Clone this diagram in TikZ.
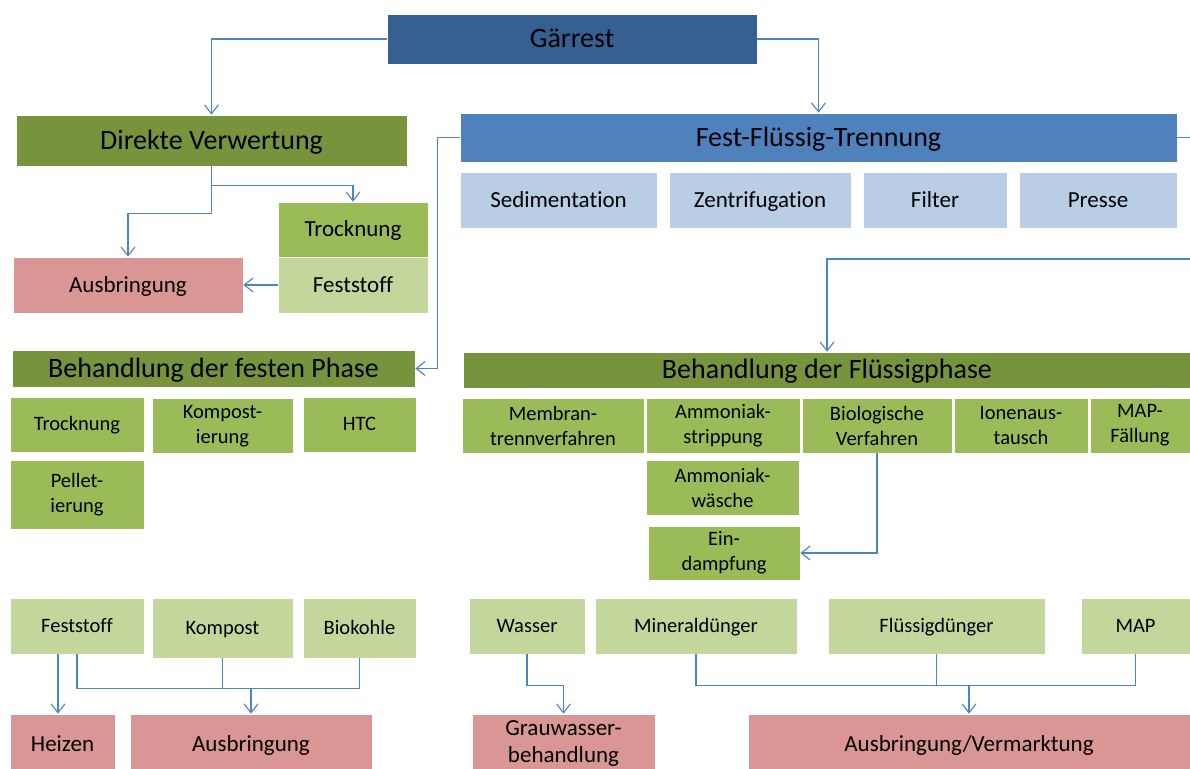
\documentclass[tikz,border=0pt]{standalone}
\usepackage{fontspec}
\setmainfont{Carlito}[Ligatures=NoCommon]
\usetikzlibrary{arrows.meta,calc}
\definecolor{dblue}{HTML}{376092}
\definecolor{mblue}{HTML}{4F81BD}
\definecolor{lblue}{HTML}{B9CDE5}
\definecolor{olive}{HTML}{77933C}
\definecolor{mgreen}{HTML}{9BBB59}
\definecolor{lgreen}{HTML}{C3D69B}
\definecolor{lred}{HTML}{D99694}
\definecolor{linec}{HTML}{4F84C4}
\tikzset{
  box/.style={inner sep=0pt, align=center, text=black, draw=white, line width=0.6pt},
  big/.style={box, text height=17.5pt, text depth=0pt, font=\fontsize{28}{32}\selectfont},
  mid/.style={box, font=\fontsize{23}{27}\selectfont},
  sml/.style={box, font=\fontsize{20.5}{25}\selectfont},
  onem/.style={text height=14.2pt, text depth=0pt},
  ones/.style={text height=12.8pt, text depth=0pt},
  conn/.style={draw=linec, line width=1.2pt},
  arr/.style={conn, -{Straight Barb[length=9pt,width=14pt,line width=1.1pt]}},
}
\begin{document}
\begin{tikzpicture}[x=1pt,y=-1pt]
\clip (0,0) rectangle (1190,768);
\fill[white] (0,0) rectangle (1190,768);
% top
\node[big, fill=dblue, minimum width=370, minimum height=50] (gaer) at (572,39) {Gärrest};
\node[big, fill=olive, minimum width=391, minimum height=51] (direkt) at (211.5,140.5) {Direkte Verwertung};
\node[big, fill=mblue, minimum width=717, minimum height=49] (fft) at (818.5,137.5) {Fest-Flüssig-Trennung};
% separation methods
\node[mid, onem, fill=lblue, minimum width=197, minimum height=56] (sed) at (558.5,200) {Sedimentation};
\node[mid, onem, fill=lblue, minimum width=182, minimum height=56] (zen) at (760,200) {Zentrifugation};
\node[mid, onem, fill=lblue, minimum width=144, minimum height=56] (fil) at (935,200) {Filter};
\node[mid, onem, fill=lblue, minimum width=158, minimum height=56] (pre) at (1098,200) {Presse};
% direct use
\node[mid, onem, fill=mgreen, minimum width=150, minimum height=55] (trock1) at (353,229.5) {Trocknung};
\node[mid, onem, fill=lgreen, minimum width=150, minimum height=56] (fest1) at (353,285) {Feststoff};
\node[mid, onem, fill=lred, minimum width=230, minimum height=56] (ausbr1) at (128,285) {Ausbringung};
% treatment headers
\node[big, fill=olive, minimum width=403, minimum height=37] (bfp) at (213.5,368.5) {Behandlung der festen Phase};
\node[big, fill=olive, minimum width=728, minimum height=36] (bfl) at (827,370) {Behandlung der Flüssigphase};
% solid treatments
\node[sml, ones, fill=mgreen, minimum width=134, minimum height=55] (trock2) at (77,424.5) {Trocknung};
\node[sml, fill=mgreen, minimum width=141, minimum height=55] (kompi) at (222.5,426) {Kompost-\\ierung};
\node[sml, ones, fill=mgreen, minimum width=113, minimum height=55] (htc) at (359.5,424.5) {HTC};
\node[sml, fill=mgreen, minimum width=134, minimum height=69] (pell) at (77,495) {Pellet-\\ierung};
% liquid treatments
\node[sml, fill=mgreen, minimum width=182, minimum height=55] (memb) at (553,425.5) {Membran-\\trennverfahren};
\node[sml, fill=mgreen, minimum width=154, minimum height=55] (amst) at (723,425.5) {Ammoniak-\\strippung};
\node[sml, fill=mgreen, minimum width=150, minimum height=55] (bio) at (877,425.5) {Biologische\\Verfahren};
\node[sml, fill=mgreen, minimum width=134, minimum height=55] (ion) at (1021,425.5) {Ionenaus-\\tausch};
\node[sml, fill=mgreen, minimum width=100, minimum height=55] (mapf) at (1140,425.5) {MAP-\\Fällung};
\node[sml, fill=mgreen, minimum width=153, minimum height=55] (amw) at (722.5,488) {Ammoniak-\\wäsche};
\node[sml, fill=mgreen, minimum width=152, minimum height=54] (eind) at (724,553) {Ein-\\dampfung};
% products
\node[sml, ones, fill=lgreen, minimum width=134, minimum height=56] (fest2) at (77,626) {Feststoff};
\node[sml, ones, fill=lgreen, minimum width=141, minimum height=60] (komp) at (222.5,628) {Kompost};
\node[sml, ones, fill=lgreen, minimum width=113, minimum height=60] (biok) at (359.5,628) {Biokohle};
\node[sml, ones, fill=lgreen, minimum width=116, minimum height=56] (wass) at (527,626) {Wasser};
\node[sml, ones, fill=lgreen, minimum width=202, minimum height=56] (mind) at (696,626) {Mineraldünger};
\node[sml, ones, fill=lgreen, minimum width=217, minimum height=56] (flud) at (936.5,626) {Flüssigdünger};
\node[sml, ones, fill=lgreen, minimum width=109, minimum height=56] (map) at (1135.5,626) {MAP};
% uses
\node[mid, onem, fill=lred, minimum width=105, minimum height=60] (heiz) at (62.5,744) {Heizen};
\node[mid, onem, fill=lred, minimum width=242, minimum height=60] (ausbr2) at (251,744) {Ausbringung};
\node[mid, fill=lred, minimum width=183, minimum height=60] (grau) at (563.5,744) {Grauwasser-\\behandlung};
\node[mid, onem, fill=lred, minimum width=442, minimum height=60] (av) at (969,744) {Ausbringung/Vermarktung};
% coordinates
\coordinate (rout) at (1190,137.5);
\coordinate (rin) at (1190,259);
\coordinate (j1) at (251,688);
\coordinate (j2) at (969,685);
% connectors
\draw[arr] (gaer.west) -| (direkt.north);
\draw[arr] (gaer.east) -| (fft.north);
\draw[conn] (fft.east) -- (rout);
\draw[arr] (fft.west) -- ++(-22,0) |- (bfp.east);
\draw[arr] (direkt.south) -- ++(0,19) -| (trock1.north);
\draw[arr] (direkt.south) -- ++(0,47) -| (ausbr1.north);
\draw[arr] (fest1.west) -- (ausbr1.east);
\draw[arr] (rin) -| (bfl.north);
\draw[arr] (bio.south) |- (eind.east);
\draw[arr] ([xshift=-19pt]fest2.south) -- ([xshift=-19pt]fest2.south |- heiz.north);
\draw[conn] (fest2.south) -- ++(0,34) -| (biok.south);
\draw[conn] (komp.south) -- (komp.south |- j1);
\draw[arr] (j1) -- (ausbr2.north);
\draw[arr] (wass.south) -- ++(0,31) -| (grau.north);
\draw[conn] (mind.south) -- ++(0,31) -| (map.south);
\draw[conn] (flud.south) -- (flud.south |- j2);
\draw[arr] (j2) -- (av.north);
\end{tikzpicture}
\end{document}
